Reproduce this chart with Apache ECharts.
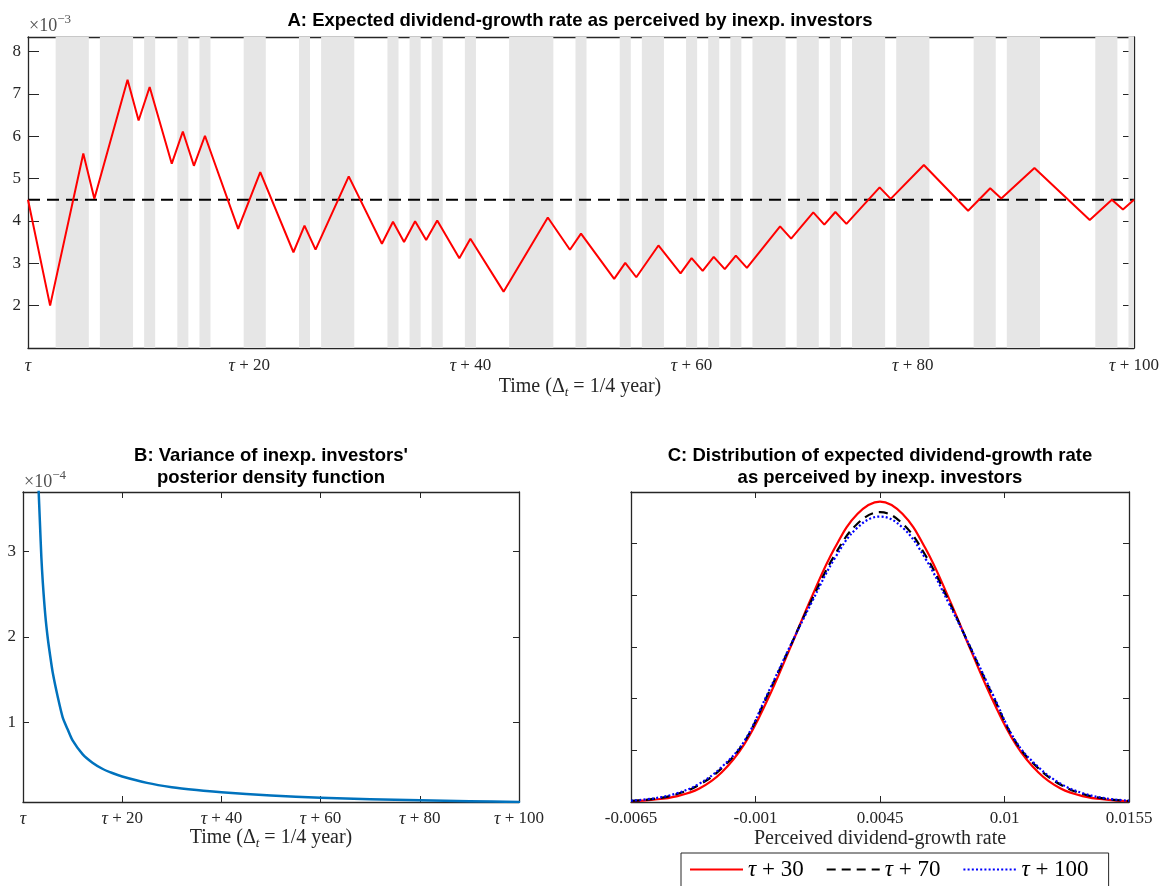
<!DOCTYPE html>
<html>
<head>
<meta charset="utf-8">
<script src="https://cdn.jsdelivr.net/npm/echarts@6/dist/echarts.min.js"></script>
<style>html,body{margin:0;padding:0;background:#fff}#c{width:1163px;height:886px}#err{position:absolute;left:0;top:0;font:12px monospace;color:#a00;white-space:pre-wrap;width:1100px}</style>
</head>
<body>
<div id="c"></div>
<div id="err"></div>
<script>
window.onerror = function (m, s, l, c, e) { document.getElementById('err').textContent += m + '\n' + (e && e.stack ? e.stack : '') + '\n'; };
// ---------- DATA ----------
// Panel A: turning points of the perceived expected dividend-growth rate (units of 1e-3)
const timeA = [0,2,5,6,9,10,11,13,14,15,16,19,21,24,25,26,29,32,33,34,35,36,37,39,40,43,47,49,50,53,54,55,57,59,60,61,62,63,64,65,68,69,71,72,73,74,77,78,81,85,87,88,91,96,98,99,100];
const growthA = [4.5,2.0,5.59,4.52,7.33,6.37,7.16,5.35,6.11,5.30,6.01,3.81,5.15,3.26,3.89,3.32,5.05,3.46,3.98,3.50,3.99,3.55,4.01,3.12,3.58,2.33,4.08,3.32,3.70,2.63,3.01,2.67,3.42,2.76,3.12,2.82,3.15,2.86,3.18,2.89,3.87,3.58,4.20,3.91,4.21,3.93,4.79,4.52,5.32,4.24,4.77,4.53,5.25,4.02,4.50,4.27,4.50];
const trueMeanA = 4.5;
const shadedA = [[2.5,5.5],[6.5,9.5],[10.5,11.5],[13.5,14.5],[15.5,16.5],[19.5,21.5],[24.5,25.5],[26.5,29.5],[32.5,33.5],[34.5,35.5],[36.5,37.5],[39.5,40.5],[43.5,47.5],[49.5,50.5],[53.5,54.5],[55.5,57.5],[59.5,60.5],[61.5,62.5],[63.5,64.5],[65.5,68.5],[69.5,71.5],[72.5,73.5],[74.5,77.5],[78.5,81.5],[85.5,87.5],[88.5,91.5],[96.5,98.5],[99.5,100]];
const yTicksA = [2,3,4,5,6,7,8];
const timeTicks = [0,20,40,60,80,100];
const timeTickLabels = ['τ','τ + 20','τ + 40','τ + 60','τ + 80','τ + 100'];

// Panel B: posterior variance (units of 1e-4)
const timeB = [3.1,3.4,3.7,4,4.5,5,5.5,6,7,8,9,10,12,14,16,18,20,25,30,35,40,50,60,70,80,90,100];
const varianceB = [3.78,3.35,2.93,2.63,2.25,1.98,1.77,1.58,1.30,1.06,0.92,0.79,0.63,0.53,0.46,0.41,0.37,0.295,0.245,0.212,0.186,0.148,0.123,0.105,0.092,0.082,0.073];
const yTicksB = [1,2,3];

// Panel C: densities
const rateC = [-0.0065,-0.0055,-0.0045,-0.0035,-0.0025,-0.0015,-0.0005,0.0005,0.0015,0.0025,0.0035,0.0045,0.0055,0.0065,0.0075,0.0085,0.0095,0.0105,0.0115,0.0125,0.0135,0.0145,0.0155];
const dens30 = [0.3,0.9,2.2,5.1,11.4,22.3,39.0,59.0,79.7,98.3,111.5,116.3,111.5,98.3,79.7,59.0,39.0,22.3,11.4,5.1,2.2,0.9,0.3];
const dens70 = [0.4,1.2,3.0,6.6,13.0,23.2,40.8,59.6,78.5,95.6,107.7,112.2,107.7,95.6,78.5,59.6,40.8,23.2,13.0,6.6,3.0,1.2,0.4];
const dens100 = [0.5,1.4,3.3,7.0,13.5,23.5,41.3,59.8,77.6,94.3,106.2,110.5,106.2,94.3,77.6,59.8,41.3,23.5,13.5,7.0,3.3,1.4,0.5];
const namesC = ['τ + 30','τ + 70','τ + 100'];
const xTicksC = [-0.0065,-0.001,0.0045,0.01,0.0155];
const xTickLabelsC = ['-0.0065','-0.001','0.0045','0.01','0.0155'];

// ---------- CHART ----------
const SERIF = 'Liberation Serif';
const SANS = 'Liberation Sans';
const AX = '#262626';
const TICKFS = 17;
const chart = echarts.init(document.getElementById('c'), null, {renderer: 'canvas'});

function zip(a, b) { return a.map((v, i) => [v, b[i]]); }
function tauFmt(v) {
  const i = timeTicks.indexOf(Math.round(v));
  const s = i >= 0 ? timeTickLabels[i] : '';
  return s.replace('τ', '{t|τ}');
}
const tauRich = {t: {fontStyle: 'italic', fontFamily: SERIF, fontSize: TICKFS + 1, color: AX}};

function axisBase(grid, pos, min, max, tickLen, showLabel, customTicks, margin) {
  const a = {
    type: 'value', gridIndex: grid, position: pos, min: min, max: max,
    axisLine: {show: true, onZero: false, lineStyle: {color: AX, width: 1.3}},
    axisTick: {show: true, inside: true, length: tickLen, lineStyle: {color: AX, width: 1}},
    splitLine: {show: false},
    axisLabel: {show: showLabel, color: AX, fontFamily: SERIF, fontSize: TICKFS, margin: margin}
  };
  if (customTicks) {
    a.axisTick.customValues = customTicks;
    a.axisLabel.customValues = customTicks;
  }
  return a;
}

const xA = axisBase(0, 'bottom', 0, 100, 12, true, null, 9);
xA.interval = 20; xA.axisLabel.formatter = tauFmt; xA.axisLabel.rich = tauRich;
const xAt = axisBase(0, 'top', 0, 100, 12, false, null, 9); xAt.interval = 20;
const xB = axisBase(1, 'bottom', 0, 100, 6, true, null, 8);
xB.interval = 20; xB.axisLabel.formatter = tauFmt; xB.axisLabel.rich = tauRich;
const xBt = axisBase(1, 'top', 0, 100, 6, false, null, 8); xBt.interval = 20;
const xC = axisBase(2, 'bottom', -0.0065, 0.0155, 6, true, xTicksC, 8);
xC.axisLabel.formatter = v => { let k = 0, best = 1; xTicksC.forEach((t, i) => { if (Math.abs(t - v) < best) { best = Math.abs(t - v); k = i; } }); return xTickLabelsC[k]; };
const xCt = axisBase(2, 'top', -0.0065, 0.0155, 6, false, xTicksC, 8);

const yA = axisBase(0, 'left', 1, 8.34, 11, true, yTicksA, 7);
const yAr = axisBase(0, 'right', 1, 8.34, 11, false, yTicksA, 7);
const yB = axisBase(1, 'left', 0.072, 3.69, 6, true, yTicksB, 7);
const yBr = axisBase(1, 'right', 0.072, 3.69, 6, false, yTicksB, 7);
const yC = axisBase(2, 'left', 0, 120, 6, false, null, 7); yC.interval = 20;
const yCr = axisBase(2, 'right', 0, 120, 6, false, null, 7); yCr.interval = 20;

const titleFont = 'bold 18.5px ' + SANS;
function txt(x, y, text, font, extra) {
  return {type: 'text', x: x, y: y, silent: true, z: 100,
    style: Object.assign({text: text, font: font, fill: '#000', align: 'center', verticalAlign: 'middle'}, extra || {})};
}
const timeNameRich = {
  n: {fontFamily: SERIF, fontSize: 20, fill: AX, color: AX, lineHeight: 24, verticalAlign: 'middle'},
  s: {fontFamily: SERIF, fontStyle: 'italic', fontSize: 13, fill: AX, color: AX, verticalAlign: 'bottom', lineHeight: 24}
};
const expRich = {
  a: {fontFamily: SERIF, fontSize: 18, fill: '#505050', color: '#505050', lineHeight: 22, verticalAlign: 'bottom'},
  b: {fontFamily: SERIF, fontSize: 13, fill: '#505050', color: '#505050', verticalAlign: 'top', lineHeight: 22}
};

const option = {
  animation: false,
  backgroundColor: '#fff',
  grid: [
    {left: 28, top: 37, width: 1106, height: 311},
    {left: 23, top: 492, width: 496, height: 310},
    {left: 631, top: 492, width: 498, height: 310}
  ],
  xAxis: [xA, xAt, xB, xBt, xC, xCt],
  yAxis: [yA, yAr, yB, yBr, yC, yCr],
  legend: {
    data: namesC, left: 681, top: 853, orient: 'horizontal', selectedMode: false,
    itemWidth: 53, itemHeight: 14, itemGap: 22,
    itemStyle: {opacity: 0},
    padding: [5, 20, 12, 8], borderColor: AX, borderWidth: 1, backgroundColor: '#fff',
    formatter: n => n.replace('τ', '{i|τ}'),
    textStyle: {fontFamily: SERIF, fontSize: 23, color: '#000',
      rich: {i: {fontFamily: SERIF, fontSize: 23, fontStyle: 'italic', color: '#000'}}}
  },
  graphic: {elements: [
    txt(580, 21, 'A: Expected dividend-growth rate as perceived by inexp. investors', titleFont),
    txt(271, 456, "B: Variance of inexp. investors'", titleFont),
    txt(271, 478, 'posterior density function', titleFont),
    txt(880, 456, 'C: Distribution of expected dividend-growth rate', titleFont),
    txt(880, 478, 'as perceived by inexp. investors', titleFont),
    txt(580, 387, '{n|Time (Δ}{s|t}{n| = 1/4 year)}', '20px ' + SERIF, {rich: timeNameRich}),
    txt(271, 838, '{n|Time (Δ}{s|t}{n| = 1/4 year)}', '20px ' + SERIF, {rich: timeNameRich}),
    txt(880, 839, 'Perceived dividend-growth rate', '20px ' + SERIF, {fill: AX}),
    txt(29, 24, '{a|×10}{b|−3}', '18px ' + SERIF, {rich: expRich, align: 'left'}),
    txt(24, 480, '{a|×10}{b|−4}', '18px ' + SERIF, {rich: expRich, align: 'left'})
  ]},
  series: [
    {
      type: 'line', name: 'mean', xAxisIndex: 0, yAxisIndex: 0, z: 3, symbol: 'none', silent: true,
      data: [[0, trueMeanA], [100, trueMeanA]],
      lineStyle: {color: '#000', width: 2, type: [12, 7]},
      markArea: {silent: true, z: 1, itemStyle: {color: '#e6e6e6'},
        data: shadedA.map(r => [{xAxis: r[0]}, {xAxis: r[1]}])}
    },
    {
      type: 'line', name: 'growth', xAxisIndex: 0, yAxisIndex: 0, z: 4, symbol: 'none', silent: true,
      data: zip(timeA, growthA),
      lineStyle: {color: '#ff0000', width: 2}
    },
    {
      type: 'line', name: 'variance', xAxisIndex: 2, yAxisIndex: 2, symbol: 'none', silent: true,
      smooth: 0.25,
      data: zip(timeB, varianceB),
      lineStyle: {color: '#0072bd', width: 2.5, join: 'round', cap: 'round'}
    },
    {
      type: 'line', name: namesC[0], xAxisIndex: 4, yAxisIndex: 4, symbol: 'none', smooth: 0.4, z: 3,
      data: zip(rateC, dens30), itemStyle: {color: '#ff0000'},
      lineStyle: {color: '#ff0000', width: 2.2}
    },
    {
      type: 'line', name: namesC[1], xAxisIndex: 4, yAxisIndex: 4, symbol: 'none', smooth: 0.4, z: 4,
      data: zip(rateC, dens70), itemStyle: {color: '#000'},
      lineStyle: {color: '#000', width: 2.2, type: [9, 6]}
    },
    {
      type: 'line', name: namesC[2], xAxisIndex: 4, yAxisIndex: 4, symbol: 'none', smooth: 0.4, z: 5,
      data: zip(rateC, dens100), itemStyle: {color: '#0000ff'},
      lineStyle: {color: '#0000ff', width: 2.2, type: [2, 2.2]}
    }
  ]
};
try {
  chart.setOption(option);
} catch (e) {
  document.getElementById('err').textContent += e.message + '\n' + e.stack;
}
</script>
</body>
</html>
